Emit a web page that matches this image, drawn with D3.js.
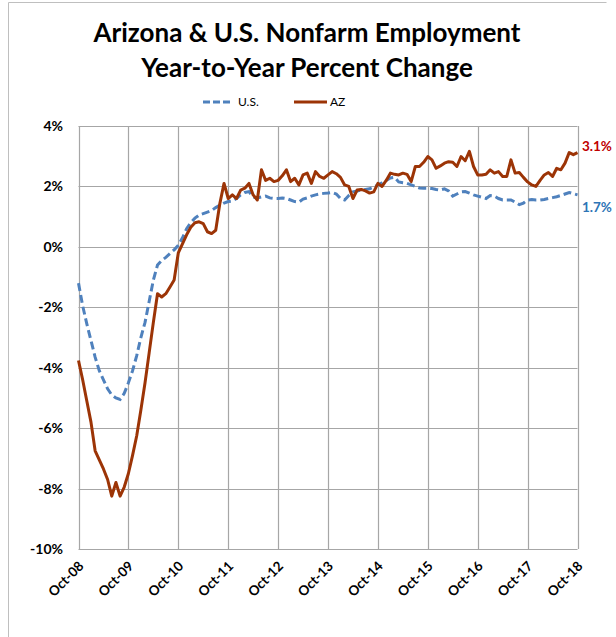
<!DOCTYPE html>
<html>
<head>
<meta charset="utf-8">
<script src="https://cdn.jsdelivr.net/npm/d3@7"></script>
<style>
  body { margin: 0; background: #fff; }
  svg { display: block; font-family: Lato, "Open Sans", sans-serif; }
</style>
</head>
<body>
<svg id="vis" width="616" height="637"></svg>
<script>
// monthly yoy % change, Oct-08 .. Oct-18
const usValues = [
  -1.2, -1.95, -2.55, -3.1, -3.65, -4.1, -4.4, -4.7, -4.9, -5.0, -5.05, -4.85,
  -4.5, -4.1, -3.6, -3.0, -2.5, -1.8, -1.1, -0.6, -0.45, -0.35, -0.22, -0.1,
  0.05, 0.3, 0.6, 0.8, 0.95, 1.05, 1.1, 1.15, 1.2, 1.3, 1.38, 1.45,
  1.5, 1.52, 1.6, 1.72, 1.8, 1.83, 1.65, 1.62, 1.65, 1.68, 1.62, 1.6,
  1.6, 1.62, 1.6, 1.55, 1.5, 1.48, 1.58, 1.62, 1.68, 1.72, 1.75, 1.77,
  1.78, 1.8, 1.75, 1.6, 1.55, 1.7, 1.82, 1.85, 1.88, 1.9, 1.92, 1.98,
  2.05, 2.12, 2.2, 2.28, 2.3, 2.15, 2.12, 2.1, 2.05, 2.0, 1.95, 1.94,
  1.94, 1.93, 1.9, 1.88, 1.92, 1.85, 1.68, 1.75, 1.82, 1.83, 1.78, 1.72,
  1.68, 1.64, 1.6, 1.7, 1.68, 1.6, 1.55, 1.55, 1.55, 1.48, 1.4, 1.45,
  1.55, 1.57, 1.55, 1.55, 1.57, 1.6, 1.63, 1.66, 1.7, 1.75, 1.8, 1.76,
  1.72
];
const azValues = [
  -3.76, -4.4, -5.1, -5.8, -6.75, -7.05, -7.35, -7.7, -8.25, -7.8, -8.25, -7.95,
  -7.5, -6.9, -6.25, -5.4, -4.5, -3.5, -2.5, -1.55, -1.66, -1.55, -1.33, -1.1,
  -0.2, 0.1, 0.4, 0.65, 0.8, 0.83, 0.77, 0.5, 0.44, 0.55, 1.44, 2.1,
  1.6, 1.72, 1.6, 1.88, 1.94, 2.1, 1.72, 1.55, 2.55, 2.2, 2.27, 2.16,
  2.2, 2.35, 2.55, 2.16, 2.27, 2.05, 2.38, 2.44, 2.1, 2.49, 2.33, 2.27,
  2.38, 2.49, 2.42, 2.3, 2.05, 2.0, 1.6, 1.88, 1.9, 1.85, 1.78, 1.82,
  2.1, 2.0, 2.2, 2.44, 2.4, 2.38, 2.44, 2.4, 2.16, 2.66, 2.66, 2.8,
  2.99, 2.88, 2.6, 2.68, 2.77, 2.82, 2.8, 2.66, 2.99, 2.85, 3.16, 2.66,
  2.38, 2.38, 2.4, 2.55, 2.44, 2.49, 2.33, 2.33, 2.88, 2.44, 2.46, 2.3,
  2.15, 2.05, 2.0, 2.2, 2.38, 2.46, 2.33, 2.6, 2.55, 2.77, 3.12, 3.05,
  3.12
];
const xTickLabels = ["Oct-08", "Oct-09", "Oct-10", "Oct-11", "Oct-12", "Oct-13",
                     "Oct-14", "Oct-15", "Oct-16", "Oct-17", "Oct-18"];
const yTicks = [-10, -8, -6, -4, -2, 0, 2, 4];
const seriesNames = ["U.S.", "AZ"];
const endLabels = ["1.7%", "3.1%"];

const svg = d3.select('#vis');
const US_COLOR = "#4f81bd";
const AZ_COLOR = "#9c3406";
const GRID = "#a6a6a6";

const x = d3.scaleLinear().domain([0, 120]).range([78.5, 577.5]);
const y = d3.scaleLinear().domain([-10, 4]).range([549, 126]);

// outer frame
svg.append("path")
    .attr("d", "M8.5,640 V2.5 H606.5")
    .attr("fill", "none")
    .attr("stroke", "#bfbfbf");

// title
svg.append("text")
    .attr("x", 307).attr("y", 42)
    .attr("text-anchor", "middle")
    .attr("font-size", 26).attr("font-weight", "bold")
    .text("Arizona & U.S. Nonfarm Employment");
svg.append("text")
    .attr("x", 307).attr("y", 77)
    .attr("text-anchor", "middle")
    .attr("font-size", 26).attr("font-weight", "bold")
    .text("Year-to-Year Percent Change");

// legend
var legend = svg.append("g").attr("font-size", 12);
legend.append("line")
    .attr("x1", 203).attr("x2", 233).attr("y1", 102).attr("y2", 102)
    .attr("stroke", US_COLOR).attr("stroke-width", 3)
    .attr("stroke-dasharray", "7,3");
legend.append("text").attr("x", 238).attr("y", 106).text(seriesNames[0]);
legend.append("line")
    .attr("x1", 294).attr("x2", 327).attr("y1", 102).attr("y2", 102)
    .attr("stroke", AZ_COLOR).attr("stroke-width", 3);
legend.append("text").attr("x", 330).attr("y", 106).text(seriesNames[1]);

// grid
var grid = svg.append("g");
grid.selectAll(".hgrid")
    .data(yTicks)
    .enter().append("line")
    .attr("x1", x(0)).attr("x2", x(120))
    .attr("y1", function (d) { return Math.round(y(d)) + 0.5; })
    .attr("y2", function (d) { return Math.round(y(d)) + 0.5; })
    .attr("stroke", GRID).attr("stroke-width", 1.2);
grid.selectAll(".vgrid")
    .data(xTickLabels)
    .enter().append("line")
    .attr("x1", function (d, i) { return Math.round(x(i * 12)) + 0.5; })
    .attr("x2", function (d, i) { return Math.round(x(i * 12)) + 0.5; })
    .attr("y1", y(4)).attr("y2", y(-10))
    .attr("stroke", GRID).attr("stroke-width", 1.2);

// y labels
svg.append("g").selectAll("text")
    .data(yTicks)
    .enter().append("text")
    .attr("x", 63)
    .attr("y", function (d) { return y(d) + 5; })
    .attr("text-anchor", "end")
    .attr("font-size", 14).attr("font-weight", "bold")
    .text(function (d) { return d + "%"; });

// x labels, rotated
svg.append("g").selectAll("text")
    .data(xTickLabels)
    .enter().append("text")
    .attr("transform", function (d, i) {
        return "translate(" + (x(i * 12) + 6) + "," + 567 + ") rotate(-45)";
    })
    .attr("text-anchor", "end")
    .attr("font-size", 13.5).attr("font-weight", "bold")
    .text(function (d) { return d; });

var line = d3.line()
    .x(function (d, i) { return x(i); })
    .y(function (d) { return y(d); });

svg.append("path")
    .datum(usValues)
    .attr("d", line)
    .attr("fill", "none")
    .attr("stroke", US_COLOR).attr("stroke-width", 3)
    .attr("stroke-dasharray", "8,4");

svg.append("path")
    .datum(azValues)
    .attr("d", line)
    .attr("fill", "none")
    .attr("stroke", AZ_COLOR).attr("stroke-width", 3)
    .attr("stroke-linejoin", "round");

// end value labels
svg.append("text")
    .attr("x", 582).attr("y", y(usValues[120]) + 17)
    .attr("font-size", 13.5).attr("font-weight", "bold")
    .attr("fill", "#2e75b6")
    .text(endLabels[0]);
svg.append("text")
    .attr("x", 582).attr("y", y(azValues[120]) - 2)
    .attr("font-size", 13.5).attr("font-weight", "bold")
    .attr("fill", "#c00000")
    .text(endLabels[1]);
</script>
</body>
</html>
